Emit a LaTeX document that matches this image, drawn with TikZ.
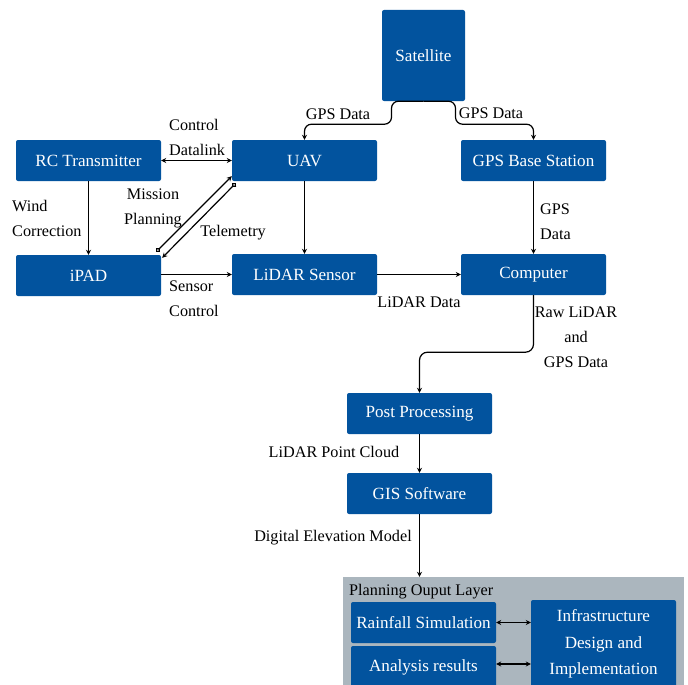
\documentclass[tikz,border=0pt]{standalone}
\usepackage{fontspec}
\setmainfont{Liberation Serif}
\usetikzlibrary{arrows.meta,positioning,calc}

\definecolor{boxblue}{RGB}{2,83,158}
\definecolor{panelgray}{RGB}{171,182,190}

\tikzset{
  blk/.style={fill=boxblue, text=white, rounded corners=2pt, minimum width=145pt, minimum height=41pt, inner sep=0pt, font=\fontsize{17.1}{26.5}\selectfont, align=center},
  lbl/.style={font=\fontsize{16.2}{25}\selectfont, inner sep=0pt},
  arr/.style={line width=1.2pt, -{Stealth[length=5pt,width=5pt]}},
  darr/.style={line width=1.2pt, {Stealth[length=5pt,width=5pt]}-{Stealth[length=5pt,width=5pt]}},
  carr/.style={line width=1.2pt, {Circle[open,length=5pt]}-{Stealth[length=5pt,width=5pt]}}
}

\begin{document}
\begin{tikzpicture}[x=1pt,y=-1pt]
			\clip (0,0) rectangle (688,685);
			\useasboundingbox (0,0) rectangle (688,685);
			
			% Acquisition
			\node[blk, minimum width=83pt, minimum height=91pt] (sat) at (423.5,55.5) {Satellite};
			\node[blk] (rc) at (88.5,160.5) {RC Transmitter};
			\node[blk] (uav) at (304.5,160.5) {UAV};
			\node[blk] (gps) at (533.5,160.5) {GPS Base Station};
			\node[blk] (ipad) at (88.5,275.5) {iPAD};
			\node[blk] (lidar) at (304.5,274.5) {LiDAR Sensor};
			\node[blk] (comp) at (533.5,274.5) {Computer};
			
			\draw[arr, rounded corners=7pt] (sat.south) -| ++(-32,23) -| (uav.north);
			\draw[arr, rounded corners=7pt] (sat.south) -| ++(32,23) -| (gps.north);
			\node[lbl] (l1) at (338,114) {GPS Data};
			\node[lbl] (l2) at (491,113) {GPS Data};
			
			\draw[darr] (rc) -- (uav);
			\node[lbl, align=left, anchor=west] (l3) at (169,137.5) {Control\\Datalink};
			\draw[arr] (rc) -- (ipad);
			\node[lbl, align=left, anchor=west] (l4) at (12,218.5) {Wind\\Correction};
			\draw[arr] (uav) -- (lidar);
			\draw[arr] (ipad.east |- lidar) -- (lidar);
			\node[lbl, align=left, anchor=west] (l5) at (169,298.5) {Sensor\\Control};
			
			% mission planning / telemetry
			\draw[carr] ($(ipad.north east)+(-5,-3)$) -- ($(uav.south west)+(0,-5)$);
			\draw[carr] ($(uav.south west)+(4,2)$) -- ($(ipad.north east)+(1,3)$);
			\node[lbl, align=center] (l6) at (153,208) {Mission\\Planning};
			\node[lbl] (l7) at (233,233) {Telemetry};
			
			\draw[arr] (gps) -- (comp);
			\node[lbl, align=left, anchor=west] (l8) at (540,221.5) {GPS\\Data};
			\draw[arr] (lidar) -- (comp);
			\node[lbl] (l9) at (419,302) {LiDAR Data};
			
			% Processing
			\node[blk] (post) at (419.5,413.5) {Post Processing};
			\node[blk] (gis) at (419.5,493.5) {GIS Software};
			
			\draw[arr, rounded corners=8pt] (comp.south) -- ++(0,57) -| (post.north);
			\node[lbl, align=center] (l10) at (576,337) {Raw LiDAR\\and\\GPS Data};
			\draw[arr] (post) -- (gis);
			\node[lbl] (l11) at (334,452) {LiDAR Point Cloud};
			
			% Output layer
			\node[fill=panelgray, minimum width=341pt, minimum height=111pt, inner sep=0pt] (panel) at (513.5,632.5) {};
			\node[lbl, anchor=west] (l13) at (349,592) {Planning Ouput Layer};
			\draw[arr] (gis.south) -- (gis.south |- panel.north);
			\node[lbl] (l12) at (333,538) {Digital Elevation Model};
			
			\node[blk] (rain) at (423.5,622.5) {Rainfall Simulation};
			\node[blk, minimum height=42pt] (ana) at (423.5,667) {Analysis results};
			\node[blk, minimum height=88pt] (infra) at (603.5,644) {Infrastructure\\Design and\\Implementation};
			\draw[darr] (rain.east) -- (rain.east -| infra.west);
			\draw[darr] ($(ana.east)+(0,-3)$) -- ($(ana.east -| infra.west)+(0,-3)$);
		\end{tikzpicture}
\end{document}
